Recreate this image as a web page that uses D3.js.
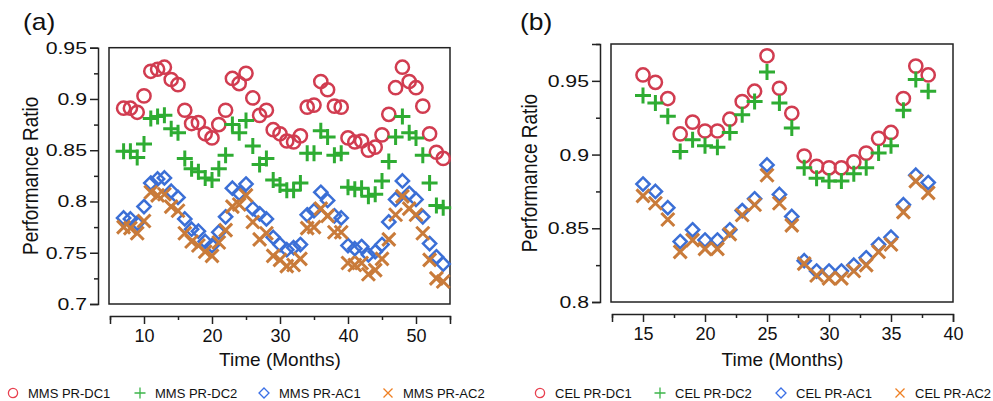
<!DOCTYPE html>
<html>
<head>
<meta charset="utf-8">
<script src="https://cdn.jsdelivr.net/npm/d3@7"></script>
<style>
  body { margin: 0; background: #fff; }
  svg { display: block; font-family: "Liberation Sans", Arial, sans-serif; }
</style>
</head>
<body>
<svg id="chart" width="993" height="401"></svg>
<script>
// panel (a) - MMS
const monthsA = [7, 8, 9, 10, 11, 12, 13, 14, 15, 16, 17, 18, 19, 20, 21, 22, 23, 24, 25, 26, 27, 28, 29, 30,
  31, 32, 33, 34, 35, 36, 37, 38, 39, 40, 41, 42, 43, 44, 45, 46, 47, 48, 49, 50, 51, 52, 53, 54];
const mmsDC1 = [0.891, 0.891, 0.887, 0.903, 0.927, 0.929, 0.931, 0.919, 0.914, 0.889, 0.876, 0.877, 0.866, 0.862,
  0.875, 0.889, 0.920, 0.915, 0.925, 0.901, 0.884, 0.889, 0.870, 0.866, 0.859, 0.858, 0.864, 0.892, 0.894, 0.917,
  0.909, 0.893, 0.892, 0.862, 0.858, 0.859, 0.850, 0.853, 0.865, 0.885, 0.911, 0.931, 0.917, 0.911, 0.893, 0.866,
  0.848, 0.842];
const mmsDC2 = [0.849, 0.849, 0.843, 0.856, 0.881, 0.883, 0.884, 0.871, 0.867, 0.842, 0.832, 0.829, 0.823, 0.821,
  0.832, 0.845, 0.875, 0.867, 0.879, 0.854, 0.836, 0.842, 0.821, 0.816, 0.811, 0.811, 0.818, 0.847, 0.847, 0.869,
  0.863, 0.845, 0.847, 0.814, 0.812, 0.813, 0.805, 0.807, 0.820, 0.839, 0.863, 0.883, 0.867, 0.862, 0.845, 0.818,
  0.796, 0.794];
const mmsAC1 = [0.784, 0.783, 0.779, 0.795, 0.818, 0.822, 0.823, 0.810, 0.804, 0.783, 0.773, 0.771, 0.761, 0.757,
  0.770, 0.785, 0.813, 0.808, 0.817, 0.793, 0.788, 0.783, 0.765, 0.758, 0.753, 0.755, 0.758, 0.787, 0.791, 0.809,
  0.801, 0.786, 0.784, 0.757, 0.754, 0.756, 0.748, 0.751, 0.758, 0.780, 0.802, 0.820, 0.808, 0.802, 0.785, 0.759,
  0.746, 0.739];
const mmsAC2 = [0.775, 0.774, 0.769, 0.781, 0.809, 0.806, 0.807, 0.795, 0.791, 0.769, 0.761, 0.757, 0.751, 0.747,
  0.760, 0.772, 0.795, 0.797, 0.806, 0.780, 0.763, 0.769, 0.747, 0.743, 0.737, 0.738, 0.744, 0.774, 0.775, 0.793,
  0.786, 0.770, 0.770, 0.740, 0.738, 0.740, 0.729, 0.733, 0.744, 0.763, 0.787, 0.805, 0.793, 0.787, 0.769, 0.743,
  0.725, 0.722];

// panel (b) - CEL
const monthsB = [15, 16, 17, 18, 19, 20, 21, 22, 23, 24, 25, 26, 27, 28, 29, 30, 31, 32, 33, 34, 35, 36, 37, 38];
const celDC1 = [0.954, 0.949, 0.938, 0.914, 0.922, 0.916, 0.916, 0.924, 0.936, 0.943, 0.967, 0.945, 0.928, 0.899,
  0.892, 0.891, 0.891, 0.895, 0.901, 0.911, 0.915, 0.938, 0.960, 0.954];
const celDC2 = [0.940, 0.935, 0.926, 0.902, 0.910, 0.906, 0.905, 0.915, 0.927, 0.936, 0.956, 0.935, 0.918, 0.891,
  0.884, 0.882, 0.882, 0.887, 0.891, 0.901, 0.906, 0.930, 0.951, 0.943];
const celAC1 = [0.880, 0.875, 0.864, 0.841, 0.849, 0.842, 0.842, 0.849, 0.862, 0.870, 0.893, 0.873, 0.858, 0.828,
  0.821, 0.821, 0.821, 0.825, 0.830, 0.839, 0.844, 0.866, 0.886, 0.881];
const celAC2 = [0.872, 0.867, 0.856, 0.834, 0.842, 0.836, 0.836, 0.846, 0.859, 0.866, 0.886, 0.867, 0.852, 0.826,
  0.818, 0.816, 0.816, 0.821, 0.825, 0.834, 0.839, 0.861, 0.882, 0.874];

const xTicksA = [5, 10, 15, 20, 25, 30, 35, 40, 45, 50, 55];
const xLabelsA = [10, 20, 30, 40, 50];
const yTicksA = [0.7, 0.725, 0.75, 0.775, 0.8, 0.825, 0.85, 0.875, 0.9, 0.925, 0.95];
const yLabelsA = [0.7, 0.75, 0.8, 0.85, 0.9, 0.95];
const xTicksB = [12.5, 15, 17.5, 20, 22.5, 25, 27.5, 30, 32.5, 35, 37.5, 40];
const xLabelsB = [15, 20, 25, 30, 35, 40];
const yTicksB = [0.8, 0.825, 0.85, 0.875, 0.9, 0.925, 0.95, 0.975];
const yLabelsB = [0.8, 0.85, 0.9, 0.95];

const markColors = { circle: "#d13c50", plus: "#2eac32", diamond: "#3b6fd6", times: "#c97b3a" };
const legendColors = { circle: "#e8404f", plus: "#3cb54a", diamond: "#3a6fe6", times: "#ef7f22" };

const svg = d3.select("#chart");
const ink = "#222";
const stretch = 1.25; // the original text is drawn a little wide

function markerPath(type, s) {
  if (type === "plus") return `M${-s},0H${s}M0,${-s}V${s}`;
  if (type === "times") return `M${-s},${-s}L${s},${s}M${-s},${s}L${s},${-s}`;
  if (type === "diamond") return `M0,${-s}L${s},0L0,${s}L${-s},0Z`;
  return null;
}

function drawPanel(cfg) {
  const g = svg.append("g");
  const x = d3.scaleLinear().domain(cfg.xDomain).range(cfg.xRange);
  const y = d3.scaleLinear().domain(cfg.yDomain).range(cfg.yRange);
  const isYLabel = d => cfg.yLabels.some(v => Math.abs(v - d) < 1e-9);

  // frame
  g.append("rect")
    .attr("x", x(cfg.xDomain[0]) - 1)
    .attr("y", y(cfg.yDomain[1]))
    .attr("width", x(cfg.xDomain[1]) - x(cfg.xDomain[0]) + 1)
    .attr("height", y(cfg.yDomain[0]) - y(cfg.yDomain[1]))
    .attr("fill", "none")
    .attr("stroke", ink)
    .attr("stroke-width", 1.5);

  // detached y axis
  const yAxis = g.append("g")
    .attr("transform", `translate(${cfg.yAxisX},0)`)
    .call(d3.axisLeft(y).tickValues(cfg.yTicks).tickSizeOuter(0).tickSize(8).tickPadding(3)
      .tickFormat(d => isYLabel(d) ? String(+d.toFixed(3)) : ""));
  yAxis.selectAll(".tick line")
    .attr("x2", d => isYLabel(d) ? -8 : -4)
    .attr("stroke", ink).attr("stroke-width", 1.5);
  yAxis.select(".domain").attr("stroke", ink).attr("stroke-width", 1.5);
  yAxis.selectAll("text")
    .attr("x", 0)
    .attr("transform", `translate(-11,0) scale(${stretch},1)`)
    .attr("font-size", 17).attr("fill", "#111")
    .attr("font-family", "Liberation Sans, Arial, sans-serif");

  // detached x axis
  const xAxis = g.append("g")
    .attr("transform", `translate(0,${cfg.xAxisY})`)
    .call(d3.axisBottom(x).tickValues(cfg.xTicks).tickSizeOuter(0).tickSize(8)
      .tickFormat(d => cfg.xLabels.includes(d) ? String(d) : ""));
  xAxis.selectAll(".tick line")
    .attr("y2", d => cfg.xLabels.includes(d) ? 8 : 4)
    .attr("stroke", ink).attr("stroke-width", 1.5);
  xAxis.select(".domain").attr("stroke", ink).attr("stroke-width", 1.5);
  xAxis.selectAll("text").attr("font-size", 18).attr("fill", "#111").attr("y", 13)
    .attr("font-family", "Liberation Sans, Arial, sans-serif");

  // titles
  g.append("text")
    .attr("transform", `translate(${cfg.yTitleX},${(cfg.yRange[0] + cfg.yRange[1]) / 2}) scale(1.15,1) rotate(-90)`)
    .attr("text-anchor", "middle")
    .attr("font-size", 19)
    .attr("fill", "#111")
    .text("Performance Ratio");
  g.append("text")
    .attr("x", (cfg.xRange[0] + cfg.xRange[1]) / 2)
    .attr("y", 366)
    .attr("text-anchor", "middle")
    .attr("font-size", 19)
    .attr("fill", "#111")
    .text("Time (Months)");
  g.append("text")
    .attr("transform", `translate(${cfg.tagX},30) scale(1.15,1)`)
    .attr("font-size", 23)
    .attr("fill", "#111")
    .text(cfg.tag);

  // markers, in legend order
  const series = [
    { type: "circle", values: cfg.series[0] },
    { type: "plus", values: cfg.series[1] },
    { type: "diamond", values: cfg.series[2] },
    { type: "times", values: cfg.series[3] },
  ];
  series.forEach(s => {
    const pts = cfg.months.map((m, i) => ({ m, v: s.values[i] }));
    const layer = g.append("g");
    if (s.type === "circle") {
      layer.selectAll("circle").data(pts).enter().append("circle")
        .attr("cx", d => x(d.m))
        .attr("cy", d => y(d.v))
        .attr("r", 6.6)
        .attr("fill", "none")
        .attr("stroke", markColors.circle)
        .attr("stroke-width", 2.5);
    } else {
      const size = s.type === "plus" ? 8 : s.type === "times" ? 6.5 : 6.6;
      layer.selectAll("path").data(pts).enter().append("path")
        .attr("transform", d => `translate(${x(d.m)},${y(d.v)})`)
        .attr("d", markerPath(s.type, size))
        .attr("fill", "none")
        .attr("stroke", markColors[s.type])
        .attr("stroke-width", s.type === "diamond" ? 2.5 : 3);
    }
  });

  // legend row
  const leg = g.append("g").attr("transform", "translate(0,393)");
  cfg.legend.forEach((item, i) => {
    const lx = cfg.legendX[i];
    if (item.type === "circle") {
      leg.append("circle").attr("cx", lx).attr("cy", 0).attr("r", 4.6)
        .attr("fill", "none").attr("stroke", legendColors.circle).attr("stroke-width", 1.3);
    } else {
      leg.append("path")
        .attr("transform", `translate(${lx},0)`)
        .attr("d", markerPath(item.type, item.type === "diamond" ? 5 : item.type === "plus" ? 5.5 : 4.5))
        .attr("fill", "none")
        .attr("stroke", legendColors[item.type])
        .attr("stroke-width", 1.3);
    }
    leg.append("text")
      .attr("x", lx + 15)
      .attr("y", 4.6)
      .attr("font-size", 13)
      .attr("fill", "#111")
      .text(item.label);
  });
}

drawPanel({
  tag: "(a)", tagX: 23,
  xDomain: [5, 55], xRange: [110, 450],
  yDomain: [0.7, 0.95], yRange: [304, 47.7],
  yAxisX: 98, xAxisY: 316, yTitleX: 38,
  xTicks: xTicksA, xLabels: xLabelsA, yTicks: yTicksA, yLabels: yLabelsA,
  months: monthsA, series: [mmsDC1, mmsDC2, mmsAC1, mmsAC2],
  legendX: [13, 140, 264, 388],
  legend: [
    { type: "circle", label: "MMS PR-DC1" },
    { type: "plus", label: "MMS PR-DC2" },
    { type: "diamond", label: "MMS PR-AC1" },
    { type: "times", label: "MMS PR-AC2" },
  ],
});

drawPanel({
  tag: "(b)", tagX: 520,
  xDomain: [12.5, 40], xRange: [612, 953],
  yDomain: [0.8, 0.975], yRange: [302, 44],
  yAxisX: 600, xAxisY: 314, yTitleX: 537,
  xTicks: xTicksB, xLabels: xLabelsB, yTicks: yTicksB, yLabels: yLabelsB,
  months: monthsB, series: [celDC1, celDC2, celAC1, celAC2],
  legendX: [540, 660, 781, 900],
  legend: [
    { type: "circle", label: "CEL PR-DC1" },
    { type: "plus", label: "CEL PR-DC2" },
    { type: "diamond", label: "CEL PR-AC1" },
    { type: "times", label: "CEL PR-AC2" },
  ],
});
</script>
</body>
</html>
